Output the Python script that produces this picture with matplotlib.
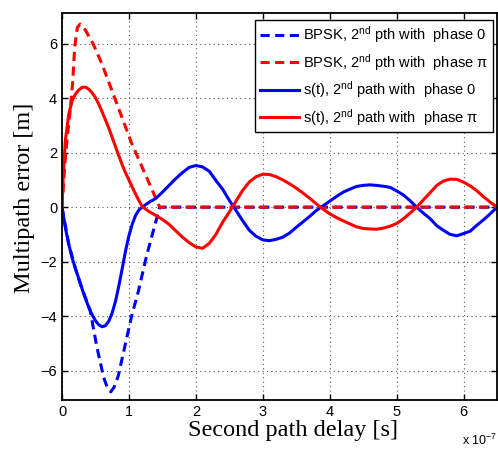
import numpy as np
import matplotlib
matplotlib.use("Agg")
import matplotlib.pyplot as plt

plt.rcParams['font.family'] = ['Liberation Sans', 'DejaVu Sans']
plt.rcParams['mathtext.fontset'] = 'custom'
plt.rcParams['mathtext.rm'] = 'Liberation Sans'
plt.rcParams['mathtext.it'] = 'Liberation Sans:italic'
plt.rcParams['axes.unicode_minus'] = True

# second path delay in units of 1e-7 s
delay = [0.00, 0.02, 0.05, 0.10, 0.15, 0.20, 0.25, 0.30, 0.35, 0.40,
         0.45, 0.50, 0.55, 0.60, 0.65, 0.70, 0.75, 0.80, 0.85, 0.90,
         0.95, 1.00, 1.05, 1.10, 1.15, 1.20, 1.30, 1.40,
         1.50, 1.60, 1.70, 1.80, 1.90, 2.00, 2.10, 2.20, 2.30, 2.40,
         2.50, 2.60, 2.70, 2.80, 2.90, 3.00, 3.10, 3.20, 3.30, 3.40,
         3.50, 3.60, 3.70, 3.80, 3.90, 4.00, 4.10, 4.20, 4.30, 4.40,
         4.50, 4.60, 4.70, 4.80, 4.90, 5.00, 5.10, 5.20, 5.30, 5.40,
         5.50, 5.60, 5.70, 5.80, 5.90, 6.00, 6.10, 6.20, 6.30, 6.40, 6.50]

# s(t), 2nd path with phase 0
st_phase0 = [0.0, -0.3, -0.75, -1.35, -1.85, -2.25, -2.62, -3.0, -3.35, -3.68,
             -3.95, -4.17, -4.32, -4.39, -4.35, -4.18, -3.88, -3.45, -2.88, -2.25,
             -1.6, -1.05, -0.62, -0.3, -0.1, 0.0, 0.18, 0.32,
             0.55, 0.8, 1.05, 1.27, 1.46, 1.53, 1.48, 1.32, 0.98, 0.66,
             0.25, -0.12, -0.5, -0.85, -1.07, -1.2, -1.23, -1.18, -1.1, -0.95,
             -0.74, -0.54, -0.34, -0.12, 0.05, 0.22, 0.39, 0.55, 0.66, 0.76,
             0.8, 0.82, 0.8, 0.77, 0.73, 0.6, 0.45, 0.24, 0.0, -0.22,
             -0.42, -0.68, -0.85, -1.0, -1.05, -0.97, -0.88, -0.66, -0.46, -0.24, 0.0]

# s(t), 2nd path with phase pi
st_phasepi = [0.0, 1.2, 2.45, 3.4, 3.9, 4.15, 4.3, 4.4, 4.41, 4.33,
              4.2, 4.02, 3.78, 3.5, 3.2, 2.9, 2.56, 2.22, 1.88, 1.55,
              1.26, 1.0, 0.73, 0.48, 0.24, 0.02, -0.16, -0.3,
              -0.45, -0.63, -0.87, -1.1, -1.3, -1.46, -1.51, -1.33, -1.0, -0.55,
              -0.18, 0.22, 0.62, 0.93, 1.12, 1.21, 1.2, 1.12, 1.0, 0.86,
              0.7, 0.52, 0.33, 0.12, -0.07, -0.24, -0.38, -0.5, -0.61, -0.72,
              -0.78, -0.8, -0.81, -0.77, -0.7, -0.6, -0.43, -0.22, 0.0, 0.27,
              0.53, 0.8, 0.96, 1.03, 1.02, 0.92, 0.78, 0.6, 0.38, 0.18, 0.0]

# BPSK curves
bpsk0_delay = [0, 0.1, 0.2, 0.3, 0.42, 0.52, 0.62, 0.68, 0.73, 0.78,
               0.84, 0.94, 1.04, 1.14, 1.26, 1.46, 6.5]
bpsk0_err = [0, -1.35, -2.25, -3.0, -3.78, -5.12, -6.23, -6.65, -6.78, -6.6,
             -6.2, -5.1, -4.0, -3.1, -1.82, 0, 0]

bpskpi_delay = [0, 0.04, 0.08, 0.12, 0.16, 0.19, 0.23, 0.27, 0.35, 0.47,
                0.59, 0.69, 1.04, 1.46, 6.5]
bpskpi_err = [0, 1.5, 2.6, 3.5, 4.6, 5.9, 6.6, 6.72, 6.5, 5.97,
              5.3, 4.65, 2.35, 0, 0]

labels = [r'BPSK, 2$^{\rm nd}$ pth with  phase 0',
          r'BPSK, 2$^{\rm nd}$ pth with  phase π',
          r's(t), 2$^{\rm nd}$ path with  phase 0',
          r's(t), 2$^{\rm nd}$ path with  phase π']

fig = plt.figure(figsize=(4.98, 4.53), dpi=100)
ax = fig.add_axes([0.1245, 0.117, 0.8735, 0.8543])

lw = 2.2
ax.plot(bpsk0_delay, bpsk0_err, color='blue', lw=lw, linestyle=(0, (3, 1.8)), label=labels[0])
ax.plot(bpskpi_delay, bpskpi_err, color='red', lw=lw, linestyle=(0, (3, 1.8)), label=labels[1])
ax.plot(delay, st_phase0, color='blue', lw=lw, label=labels[2])
ax.plot(delay, st_phasepi, color='red', lw=lw, label=labels[3])

ax.set_xlim(0, 6.5)
ax.set_ylim(-7.08, 7.13)
ax.set_xticks([0, 1, 2, 3, 4, 5, 6])
ax.set_yticks([-6, -4, -2, 0, 2, 4, 6])
ax.tick_params(direction='in', top=True, right=True, length=4, width=1, labelsize=10.5)
ax.grid(True, linestyle=(0, (1, 3)), color='0.35', lw=0.8)
for s in ax.spines.values():
    s.set_linewidth(1.3)

ax.set_xlabel('Second path delay [s]', family='Liberation Serif', fontsize=17.5)
ax.xaxis.set_label_coords(0.532, -0.052)
ax.set_ylabel('Multipath error [m]', family='Liberation Serif', fontsize=17.5)
ax.yaxis.set_label_coords(-0.062, 0.523)
ax.text(1.0, -0.105, r'x 10$^{-7}$', transform=ax.transAxes, ha='right', va='center', fontsize=9)

leg = ax.legend(loc='upper right', bbox_to_anchor=(0.991, 0.982), borderaxespad=0,
                fancybox=False, framealpha=1, edgecolor='black', fontsize=10.5,
                handlelength=2.7, labelspacing=0.45, handletextpad=0.3, borderpad=0.3)
leg.get_frame().set_linewidth(1.0)

fig.savefig('out.png', dpi=100)
